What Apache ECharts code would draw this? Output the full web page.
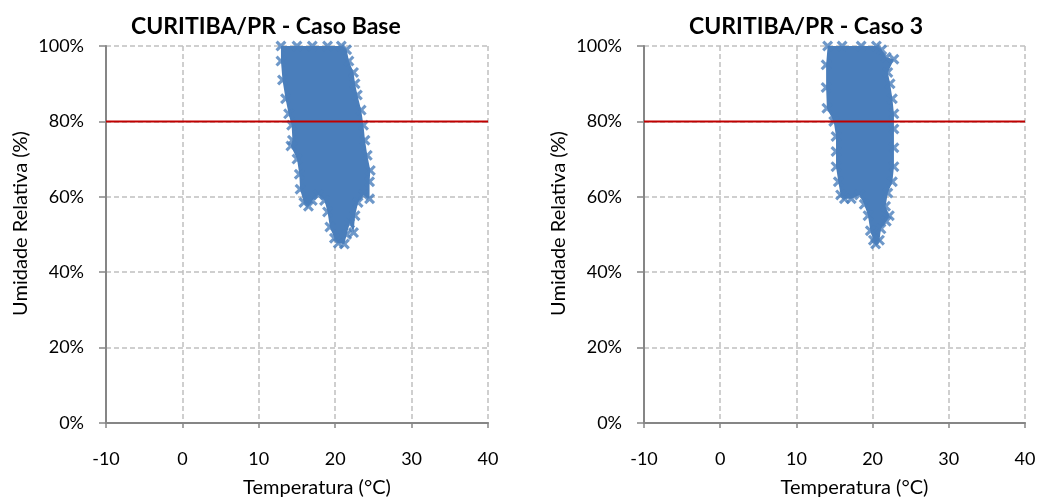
<!DOCTYPE html>
<html>
<head>
<meta charset="utf-8">
<script src="https://cdn.jsdelivr.net/npm/echarts@6/dist/echarts.min.js"></script>
<style>
  html, body { margin: 0; padding: 0; background: #fff; }
  #chart { width: 1040px; height: 503px; }
</style>
</head>
<body>
<div id="chart"></div>
<script>
// temperature axis ticks (°C) and humidity ticks (%)
const tempTicks = [-10, 0, 10, 20, 30, 40]
const rhTicks = [0, 20, 40, 60, 80, 100]

// 80% humidity limit line
const limitTemp = [-10, 40]
const limitRh = [80, 80]

// outline of the point cloud, Caso Base: [temp °C, RH %] (marker centres)
const baseTemp = [12.9, 12.9, 13.1, 13.5, 13.9, 14.3, 14.4, 14.2, 15.0, 15.3, 15.4, 15.9, 16.5, 17.0, 17.8, 18.6, 19.0, 19.3, 19.9, 20.4, 21.2, 21.5, 21.9, 22.4, 22.6, 23.0, 23.7, 24.5, 24.5, 24.6, 24.2, 23.9, 23.7, 23.4, 22.9, 22.6, 22.4, 21.8, 21.5, 20.8, 19.0, 17.0, 15.0]
const baseRh = [100, 96, 91, 86, 82, 79, 75, 73.5, 70, 66, 62, 58.5, 57.5, 59, 60.5, 59, 56, 52, 49, 47.7, 47.5, 50, 53, 50.5, 55, 58.5, 60.5, 59.5, 64, 67, 71, 75, 79, 83, 87, 90, 93, 96, 99, 100, 100, 100, 100]

// outline of the point cloud, Caso 3
const c3Temp = [14.1, 13.9, 13.9, 14.0, 14.9, 15.2, 15.2, 15.2, 15.5, 15.8, 16.3, 17.2, 18.3, 18.9, 19.4, 19.7, 20.1, 20.4, 20.9, 21.1, 21.8, 22.2, 21.7, 22.0, 22.6, 22.8, 22.8, 22.8, 22.8, 22.6, 22.3, 22.0, 22.8, 21.8, 21.2, 20.5, 18.5, 16.0]
const c3Rh = [100, 95, 89, 83.5, 80, 76, 72, 68, 64, 60.5, 59.5, 59.5, 60.5, 58, 55, 51, 48.5, 47.5, 48.5, 51.5, 53.5, 55, 57.5, 61, 64, 68, 73, 78, 82, 86, 90, 93, 96.5, 97, 99, 100, 100, 100]

const titles = ['CURITIBA/PR - Caso Base', 'CURITIBA/PR - Caso 3']
const font = 'Lato, "Open Sans", sans-serif'
const blue = '#4a7ebb'
const xMark = 'path://M0,2L2,0L5,3L8,0L10,2L7,5L10,8L8,10L5,7L2,10L0,8L3,5Z'

const pairs = (xs, ys) => xs.map((x, i) => [x, ys[i]])

const chart = echarts.init(document.getElementById('chart'))

const gridLine = { show: true, lineStyle: { color: '#c0c0c0', type: [5, 3], width: 1.5 } }

const makeX = (gi) => ({
  gridIndex: gi,
  type: 'value',
  min: tempTicks[0],
  max: tempTicks[tempTicks.length - 1],
  interval: 10,
  name: 'Temperatura (°C)',
  nameLocation: 'middle',
  nameGap: 55,
  nameTextStyle: { fontFamily: font, fontSize: 20, color: '#000', padding: [0, 0, 0, 40] },
  axisLine: { onZero: false, lineStyle: { color: '#868686', width: 2 } },
  axisTick: { show: true, length: 5, lineStyle: { color: '#868686', width: 1.5 } },
  axisLabel: { fontFamily: font, fontSize: 18, color: '#000', margin: 27 },
  splitLine: gridLine
})

const makeY = (gi) => ({
  gridIndex: gi,
  type: 'value',
  min: rhTicks[0],
  max: rhTicks[rhTicks.length - 1],
  interval: 20,
  name: 'Umidade Relativa (%)',
  nameLocation: 'middle',
  nameGap: 75,
  nameTextStyle: { fontFamily: font, fontSize: 20, color: '#000', padding: [0, 0, 0, 22] },
  axisLine: { show: true, onZero: false, lineStyle: { color: '#868686', width: 2 } },
  axisTick: { show: true, length: 7, lineStyle: { color: '#868686', width: 1.5 } },
  axisLabel: { fontFamily: font, fontSize: 18, color: '#000', margin: 22, formatter: '{value}%' },
  splitLine: gridLine
})

const cloudSeries = (gi, xs, ys) => {
  const pts = pairs(xs, ys)
  return [
    {
      type: 'custom',
      xAxisIndex: gi,
      yAxisIndex: gi,
      data: pts,
      silent: true,
      z: 2,
      renderItem: (params, api) => {
        if (params.dataIndex !== 0) return null
        return {
          type: 'polygon',
          shape: { points: pts.map(p => api.coord(p)) },
          style: { fill: blue }
        }
      }
    },
    {
      type: 'scatter',
      xAxisIndex: gi,
      yAxisIndex: gi,
      data: pts,
      symbol: xMark,
      symbolSize: 11,
      itemStyle: { color: blue },
      z: 3
    },
    {
      type: 'line',
      xAxisIndex: gi,
      yAxisIndex: gi,
      data: pairs(limitTemp, limitRh),
      symbol: 'none',
      lineStyle: { color: '#c00000', width: 2 },
      z: 4
    }
  ]
}

chart.setOption({
  animation: false,
  title: [
    { text: titles[0], left: 126, top: 10, textStyle: { fontFamily: font, fontSize: 23, fontWeight: 'bold', color: '#000' } },
    { text: titles[1], left: 684, top: 10, textStyle: { fontFamily: font, fontSize: 23, fontWeight: 'bold', color: '#000' } }
  ],
  grid: [
    { left: 106, top: 46, width: 382, height: 377 },
    { left: 644, top: 46, width: 381, height: 377 }
  ],
  xAxis: [makeX(0), makeX(1)],
  yAxis: [makeY(0), makeY(1)],
  series: [
    ...cloudSeries(0, baseTemp, baseRh),
    ...cloudSeries(1, c3Temp, c3Rh)
  ]
})
</script>
</body>
</html>
